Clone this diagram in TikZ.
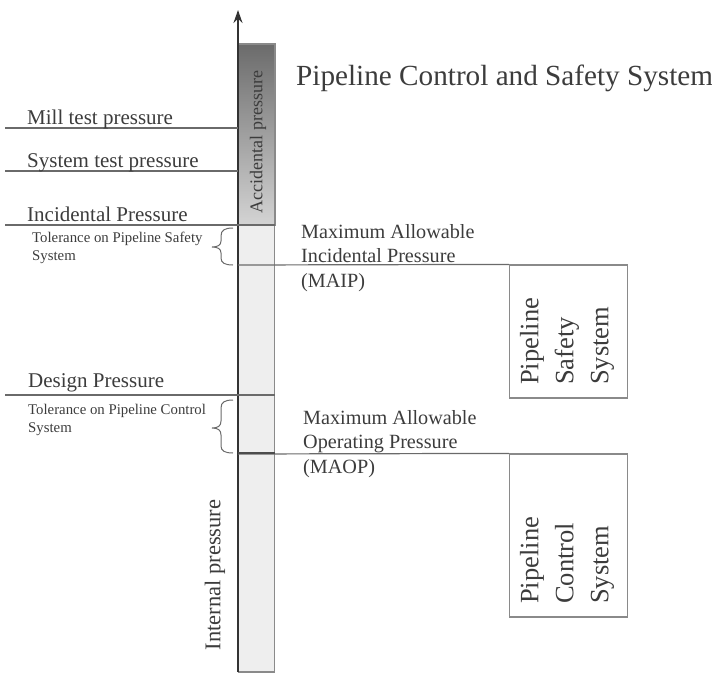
\documentclass[tikz,border=0pt]{standalone}
\usepackage{fontspec}
\setmainfont{Liberation Serif}
\usetikzlibrary{arrows.meta}
\definecolor{txt}{HTML}{3C3C3C}
\definecolor{ln}{HTML}{6A6A6A}
\definecolor{barfill}{HTML}{EEEEEE}
\definecolor{barborder}{HTML}{8A8A8A}
\begin{document}
\begin{tikzpicture}[x=1pt,y=-1pt,
  lvl/.style={draw=ln,line width=1.2pt},
  lbl/.style={text=txt,inner sep=0pt,anchor=base west,font=\fontsize{21}{24}\selectfont},
  small/.style={text=txt,inner sep=0pt,anchor=base west,align=left,font=\fontsize{14.8}{18}\selectfont},
  mlbl/.style={text=txt,inner sep=0pt,anchor=base west,align=left,font=\fontsize{20.2}{24.5}\selectfont},
  sysbox/.style={draw=barborder,line width=1.2pt,minimum width=118pt,inner sep=0pt},
  systxt/.style={text=txt,inner sep=0pt,rotate=90,anchor=west,align=left,font=\fontsize{26.5}{35}\selectfont},
  bracestyle/.style={draw=ln,line width=1pt}]
\useasboundingbox (0,0) rectangle (712,675);

% bar
\node[draw=barborder,fill=barfill,line width=1.2pt,minimum width=36pt,minimum height=628pt,inner sep=0pt] (bar) at (256.5,358) {};
\shade[top color=black!58,bottom color=black!17] (239,44) rectangle (274.4,225);
\draw[barborder,line width=1.2pt] (238,44) rectangle (275,225);

% axis
\coordinate (axB) at (238,672);
\coordinate (axT) at (238,10);
\draw[line width=2pt,black!80,-{Stealth[length=13pt,width=9pt]}] (axB) -- (axT);

% level lines
\coordinate (millL) at (5,128);   \coordinate (millR) at (238,128);
\coordinate (sysL) at (5,171);    \coordinate (sysR) at (238,171);
\coordinate (incL) at (5,225);    \coordinate (incR) at (275,225);
\coordinate (desL) at (5,395);    \coordinate (desR) at (275,395);
\coordinate (maipL) at (238,265);
\coordinate (maopL) at (238,454);
\draw[lvl] (millL) -- (millR);
\draw[lvl] (sysL) -- (sysR);
\draw[lvl] (incL) -- (incR);
\draw[lvl] (desL) -- (desR);

% boxes
\node[sysbox,minimum height=133pt] (safe) at (568.5,331.5) {};
\node[sysbox,minimum height=163pt] (ctrl) at (568.5,535.5) {};
\draw[lvl] (maipL) -- (safe.north west);
\draw[lvl] (maopL) -- (ctrl.north west);
\draw[black!70,line width=1.4pt] (238,453) -- (275,453);

\node[systxt] (safetxt) at (567,385) {Pipeline\\Safety\\System};
\node[systxt] (ctrltxt) at (567,604) {Pipeline\\Control\\System};

% labels
\node[lbl] (mill) at (27,124) {Mill test pressure};
\node[lbl] (syst) at (27,167) {System test pressure};
\node[lbl] (inc) at (27,221) {Incidental Pressure};
\node[lbl] (des) at (28,387) {Design Pressure};
\node[small] (tols) at (32,260) {Tolerance on Pipeline Safety\\System};
\node[small] (tolc) at (28,432) {Tolerance on Pipeline Control\\System};
\node[mlbl] (maip) at (301,287) {Maximum Allowable\\Incidental Pressure\\(MAIP)};
\node[mlbl] (maop) at (303,473) {Maximum Allowable\\Operating Pressure\\(MAOP)};
\node[text=txt,inner sep=0pt,anchor=base west,font=\fontsize{29.2}{34}\selectfont] (title) at (296,85) {Pipeline Control and Safety System};
\node[text=txt,inner sep=0pt,rotate=90,font=\fontsize{18}{20}\selectfont] (acc) at (258,142) {Accidental pressure};
\node[text=txt,inner sep=0pt,rotate=90,font=\fontsize{22.5}{26}\selectfont] (intp) at (215,575) {Internal pressure};

% braces
\coordinate (bsT) at (233,228); \coordinate (bsB) at (233,265);
\coordinate (bcT) at (233,400); \coordinate (bcB) at (233,453);
\draw[bracestyle] (bsT) .. controls (225,228) and (221,230) .. (221,236) -- (221,241)
  .. controls (221,245) and (218,247) .. (212,247)
  .. controls (218,247) and (221,249) .. (221,253) -- (221,258)
  .. controls (221,263) and (225,265) .. (bsB);
\draw[bracestyle] (bcT) .. controls (225,400) and (221,402) .. (221,408) -- (221,421)
  .. controls (221,426) and (218,428) .. (212,428)
  .. controls (218,428) and (221,430) .. (221,435) -- (221,446)
  .. controls (221,451) and (225,453) .. (bcB);
\end{tikzpicture}
\end{document}
